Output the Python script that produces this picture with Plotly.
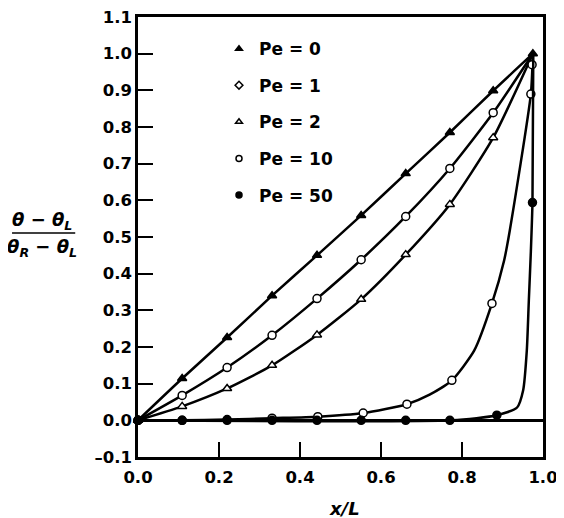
import plotly.graph_objects as go

# values
pe_labels = ["Pe = 0", "Pe = 1", "Pe = 2", "Pe = 10", "Pe = 50"]

x_pts = [0, 0.109, 0.22, 0.331, 0.442, 0.551, 0.661, 0.77, 0.877]

pe0_x = x_pts + [0.975]
pe0_y = [0, 0.114, 0.226, 0.34, 0.45, 0.559, 0.673, 0.785, 0.899, 1.0]

pe1_x = x_pts + [0.975]
pe1_y = [0, 0.068, 0.144, 0.232, 0.332, 0.438, 0.556, 0.687, 0.839, 1.0]

pe2_x = x_pts + [0.975]
pe2_y = [0, 0.038, 0.087, 0.15, 0.233, 0.33, 0.452, 0.589, 0.771, 1.0]

pe10_mx = [0, 0.109, 0.22, 0.331, 0.444, 0.556, 0.664, 0.775, 0.874, 0.970, 0.973]
pe10_my = [0, 0.0, 0.002, 0.006, 0.01, 0.02, 0.044, 0.109, 0.319, 0.89, 0.97]
pe10_lx = [0, 0.109, 0.22, 0.331, 0.444, 0.556, 0.664, 0.72, 0.775, 0.83, 0.874, 0.904, 0.918, 0.970, 0.975]
pe10_ly = [0, 0.0, 0.002, 0.006, 0.01, 0.02, 0.044, 0.07, 0.109, 0.19, 0.319, 0.436, 0.518, 0.89, 1.0]

pe50_mx = [0, 0.109, 0.22, 0.331, 0.442, 0.551, 0.661, 0.77, 0.886, 0.974]
pe50_my = [0, 0, 0, 0, 0, 0, 0, 0, 0.014, 0.594]
pe50_lx = [0, 0.775, 0.886, 0.936, 0.951, 0.96, 0.965, 0.97, 0.974, 0.976]
pe50_ly = [0, 0, 0.014, 0.035, 0.082, 0.19, 0.327, 0.46, 0.594, 1.0]

x_ticks = [0.0, 0.2, 0.4, 0.6, 0.8, 1.0]
y_ticks = [-0.1, 0.0, 0.1, 0.2, 0.3, 0.4, 0.5, 0.6, 0.7, 0.8, 0.9, 1.0, 1.1]

FONT = "DejaVu Sans"

curves = [
    (pe0_x, pe0_y, pe0_x, pe0_y, "triangle-up", "black", "triangle-up"),
    (pe1_x, pe1_y, pe1_x[:-1], pe1_y[:-1], "circle", "white", "diamond"),
    (pe2_x, pe2_y, pe2_x[:-1], pe2_y[:-1], "triangle-up", "white", "triangle-up"),
    (pe10_lx, pe10_ly, pe10_mx, pe10_my, "circle", "white", "circle"),
    (pe50_lx, pe50_ly, pe50_mx, pe50_my, "circle", "black", "circle"),
]

fig = go.Figure()

for i, (lx, ly, mx, my, sym, fill, leg_sym) in enumerate(curves):
    fig.add_trace(go.Scatter(
        x=lx, y=ly, mode="lines", showlegend=False,
        line=dict(color="black", width=2.5, shape="spline", smoothing=0.6),
    ))
    fig.add_trace(go.Scatter(
        x=mx, y=my, mode="markers", showlegend=False, cliponaxis=False,
        marker=dict(symbol=sym, size=8, color=fill, line=dict(color="black", width=1.5)),
    ))
    # legend-only entry
    fig.add_trace(go.Scatter(
        x=[None], y=[None], mode="markers", name=pe_labels[i], legendgroup=str(i),
        marker=dict(symbol=leg_sym, size=6, color=fill, line=dict(color="black", width=1.5)),
    ))

axis_common = dict(
    showgrid=False, showline=True, linecolor="black", linewidth=2.5, mirror=True,
    ticks="inside", ticklen=15, tickwidth=1.5, tickcolor="black", automargin=False,
    ticklabeloverflow="allow",
    tickfont=dict(family=FONT, size=16.5, color="black", weight="bold"),
)

fig.update_xaxes(
    range=[0, 1.0], tickvals=x_ticks, ticktext=[f"{v:.1f}" for v in x_ticks],
    zeroline=False, ticklabelstandoff=3, **axis_common,
)
fig.update_yaxes(
    range=[-0.1, 1.1001], tickvals=y_ticks,
    ticktext=[f"{v:.1f}".replace("-", "\u2013") for v in y_ticks],
    zeroline=True, zerolinecolor="black", zerolinewidth=2.5, **axis_common,
)

title_font = dict(family=FONT, size=18, color="black", weight="bold", style="italic")

fig.add_annotation(text="x/L", x=0.51, y=-0.116, xref="paper", yref="paper",
                   showarrow=False, font=title_font, xanchor="center", yanchor="middle")
fig.add_annotation(text="θ \u2212 θ<sub>L</sub>", x=-0.236, y=0.537, xref="paper", yref="paper",
                   showarrow=False, font=title_font, xanchor="center", yanchor="middle")
fig.add_annotation(text="θ<sub>R</sub> \u2212 θ<sub>L</sub>", x=-0.236, y=0.475, xref="paper", yref="paper",
                   showarrow=False, font=title_font, xanchor="center", yanchor="middle")
fig.add_shape(type="line", xref="paper", yref="paper", x0=-0.311, x1=-0.155,
              y0=0.509, y1=0.509, line=dict(color="black", width=1.5))

# the page body adds an 8px margin, so the figure is 8px smaller than the window
fig.update_layout(
    width=556, height=510,
    margin=dict(l=130, r=21, t=9, b=61, autoexpand=False),
    paper_bgcolor="white", plot_bgcolor="white",
    legend=dict(
        x=0.2, y=0.968, xanchor="left", yanchor="top",
        bgcolor="rgba(0,0,0,0)", tracegroupgap=11.5,
        font=dict(family=FONT, size=17, color="black", weight="bold"),
    ),
)

fig.write_html("out.html")
